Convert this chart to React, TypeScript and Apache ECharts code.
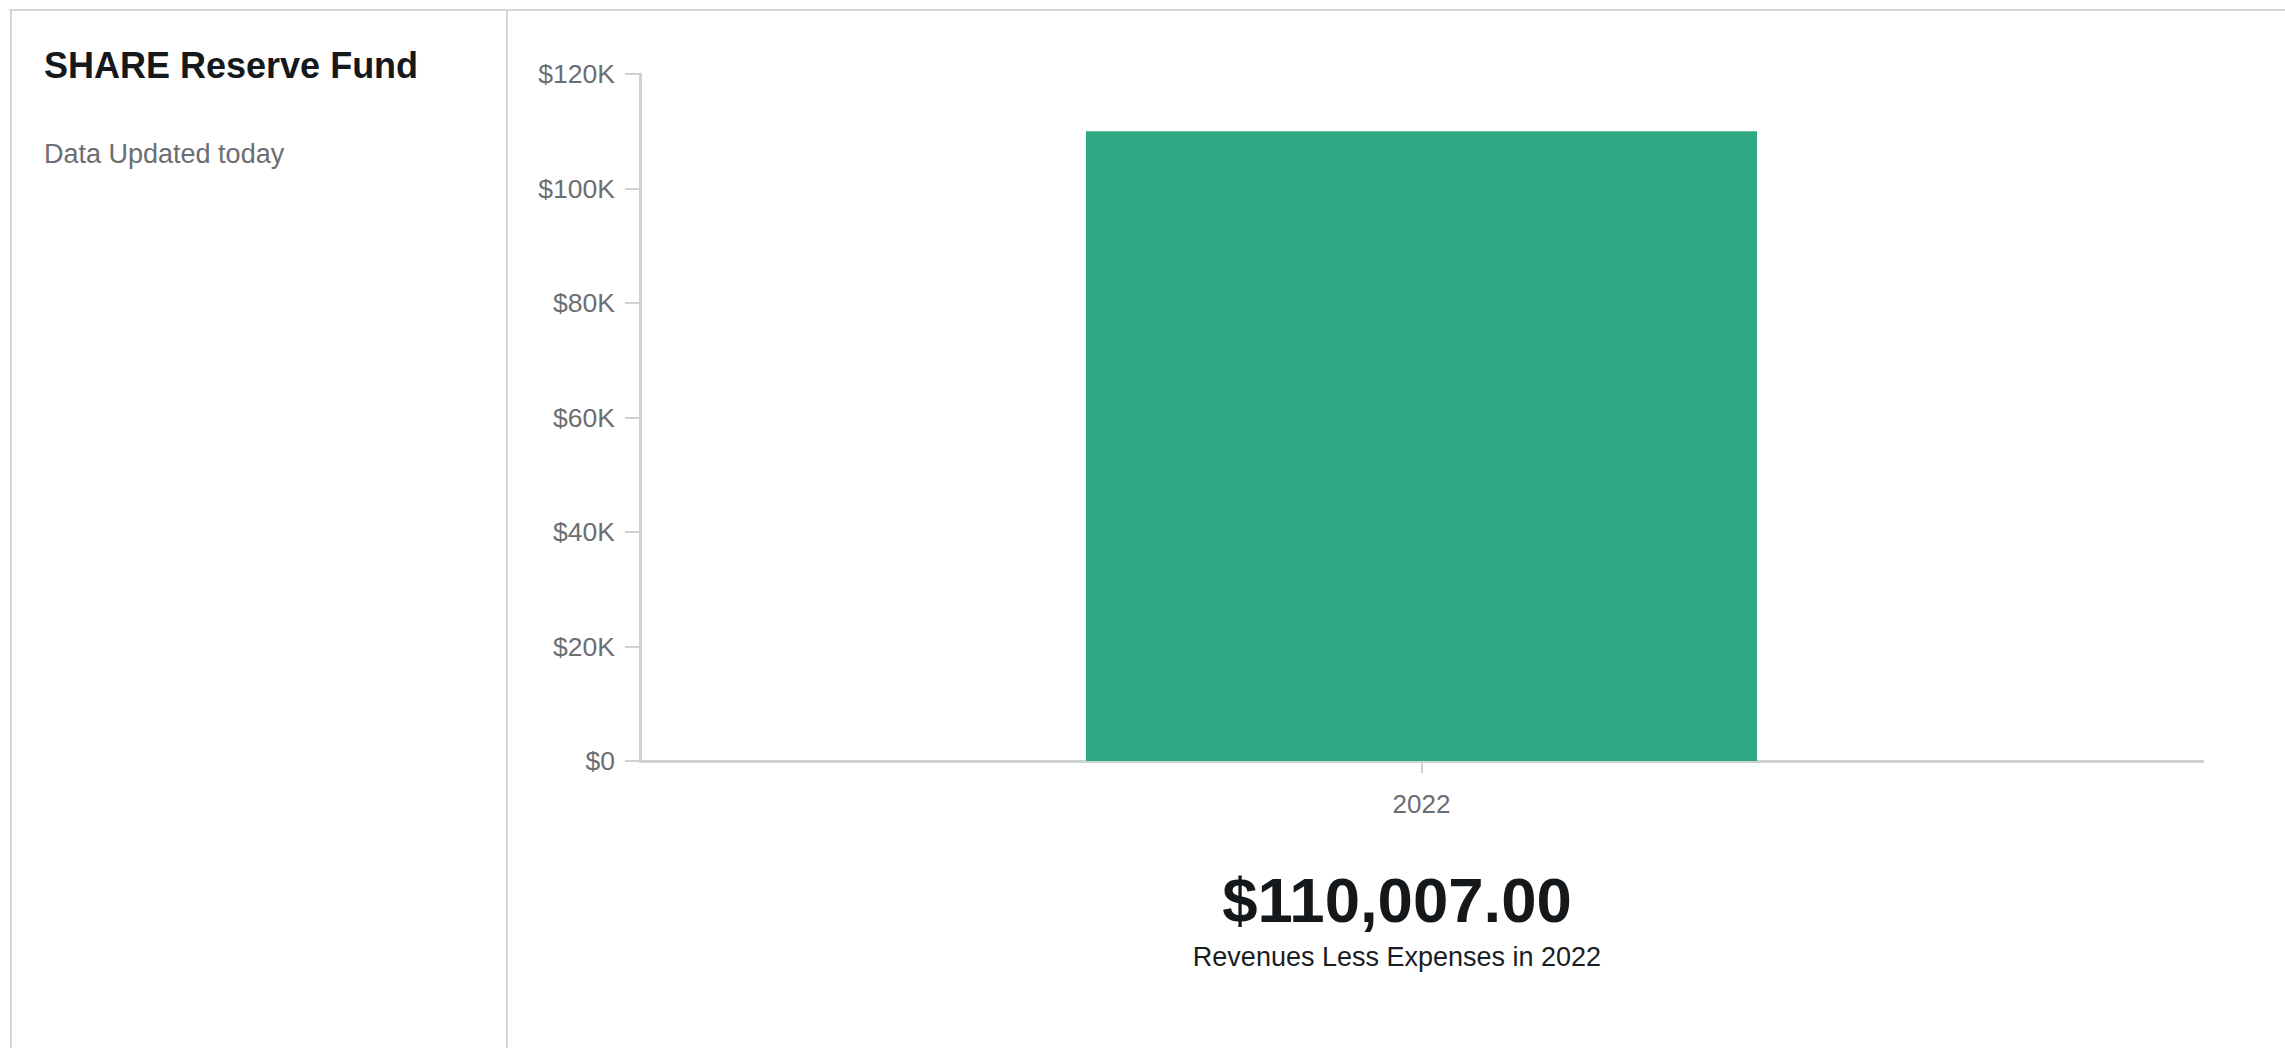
import React, { useEffect, useRef } from "react";
import * as echarts from "echarts";

const categories: string[] = ["2022"];
const seriesValues: number[] = [110007];
const yTickValues: number[] = [0, 20000, 40000, 60000, 80000, 100000, 120000];

const titleText = "SHARE Reserve Fund";
const subtitleText = "Data Updated today";
const captionPrefix = "Revenues Less Expenses in ";

const FONT = '"Liberation Sans", Arial, Helvetica, sans-serif';
const AXIS_COLOR = "#cdd0d5";
const BORDER_COLOR = "#d3d6da";
const LABEL_COLOR = "#6b6e72";

export default function App() {
  const ref = useRef<HTMLDivElement>(null);

  useEffect(() => {
    if (!ref.current) return;
    const chart = echarts.init(ref.current, null, { renderer: "svg" });
    const total = seriesValues[0];
    const totalText =
      "$" +
      total.toLocaleString("en-US", {
        minimumFractionDigits: 2,
        maximumFractionDigits: 2,
      });
    const yMax = yTickValues[yTickValues.length - 1];
    const yInterval = yTickValues[1] - yTickValues[0];

    chart.setOption({
      animation: false,
      backgroundColor: "#ffffff",
      textStyle: { fontFamily: FONT },
      grid: { left: 640, right: 82, top: 74, bottom: 287, containLabel: false },
      xAxis: {
        type: "category",
        data: categories,
        axisLine: { show: true, lineStyle: { color: AXIS_COLOR, width: 3 } },
        axisTick: {
          show: true,
          alignWithLabel: true,
          length: 12,
          lineStyle: { color: AXIS_COLOR, width: 2 },
        },
        axisLabel: {
          color: LABEL_COLOR,
          fontSize: 26,
          fontFamily: FONT,
          margin: 30,
        },
        splitLine: { show: false },
      },
      yAxis: {
        type: "value",
        min: 0,
        max: yMax,
        interval: yInterval,
        axisLine: { show: true, lineStyle: { color: AXIS_COLOR, width: 3 } },
        axisTick: {
          show: true,
          length: 15,
          lineStyle: { color: AXIS_COLOR, width: 2 },
        },
        axisLabel: {
          color: LABEL_COLOR,
          fontSize: 26.5,
          fontFamily: FONT,
          margin: 25,
          formatter: (v: number) => "$" + v / 1000 + (v === 0 ? "" : "K"),
        },
        splitLine: { show: false },
      },
      series: [
        {
          type: "bar",
          data: seriesValues,
          barWidth: 671,
          itemStyle: { color: "#2ea782" },
        },
      ],
      graphic: [
        {
          type: "line",
          shape: { x1: 9, y1: 10, x2: 2285, y2: 10 },
          style: { stroke: BORDER_COLOR, lineWidth: 2 },
        },
        {
          type: "line",
          shape: { x1: 11, y1: 9, x2: 11, y2: 1048 },
          style: { stroke: BORDER_COLOR, lineWidth: 2 },
        },
        {
          type: "line",
          shape: { x1: 507, y1: 10, x2: 507, y2: 1048 },
          style: { stroke: BORDER_COLOR, lineWidth: 2 },
        },
        {
          type: "text",
          x: 44,
          y: 65,
          style: {
            text: titleText,
            font: `bold 36px ${FONT}`,
            fill: "#16191c",
            verticalAlign: "middle",
            align: "left",
          },
        },
        {
          type: "text",
          x: 44,
          y: 154,
          style: {
            text: subtitleText,
            font: `27px ${FONT}`,
            fill: LABEL_COLOR,
            verticalAlign: "middle",
            align: "left",
          },
        },
        {
          type: "text",
          x: 1397,
          y: 900,
          style: {
            text: totalText,
            font: `bold 63.5px ${FONT}`,
            fill: "#15181b",
            verticalAlign: "middle",
            align: "center",
          },
        },
        {
          type: "text",
          x: 1397,
          y: 957,
          style: {
            text: captionPrefix + categories[0],
            font: `27px ${FONT}`,
            fill: "#1a1d21",
            verticalAlign: "middle",
            align: "center",
          },
        },
      ],
    });

    return () => {
      chart.dispose();
    };
  }, []);

  return (
    <div
      ref={ref}
      style={{
        position: "fixed",
        left: 0,
        top: 0,
        width: 2285,
        height: 1048,
      }}
    />
  );
}
